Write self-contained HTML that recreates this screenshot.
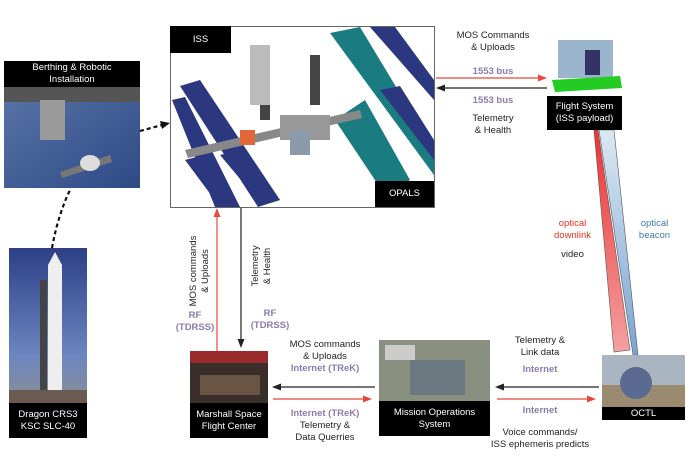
<!DOCTYPE html>
<html><head><style>
body{margin:0;width:700px;height:466px;background:#fff;position:relative;overflow:hidden;font-family:"Liberation Sans",sans-serif;font-size:9.5px;color:#222}
.a{position:absolute}
.lbl{position:absolute;background:#000;color:#fff;text-align:center;line-height:12px;display:flex;align-items:center;justify-content:center}
.t{position:absolute;text-align:center;line-height:12px;white-space:nowrap}
.p{color:#8a7bb0;font-weight:bold}
</style></head><body>
<svg class="a" style="left:0;top:0" width="700" height="466">
<defs>
<linearGradient id="sky" x1="0" y1="0" x2="0" y2="1"><stop offset="0" stop-color="#2d3f86"/><stop offset="0.7" stop-color="#6d86c0"/><stop offset="1" stop-color="#8a8f95"/></linearGradient>
<linearGradient id="earth" x1="0" y1="0" x2="1" y2="1"><stop offset="0" stop-color="#5a74a6"/><stop offset="1" stop-color="#2e4a86"/></linearGradient>
<linearGradient id="red" x1="0" y1="0" x2="0" y2="1"><stop offset="0" stop-color="#e33"/><stop offset="1" stop-color="#f4a0a0"/></linearGradient>
<linearGradient id="blu" x1="0" y1="0" x2="0" y2="1"><stop offset="0" stop-color="#dbe8f3"/><stop offset="1" stop-color="#7ba4d2"/></linearGradient>
</defs>
<!-- beams -->
<polygon points="599,130 614,130 638,355 633,355" fill="url(#blu)" stroke="#555" stroke-width="0.6"/>
<polygon points="594,130 598,130 630,350 614,352" fill="url(#red)" stroke="#555" stroke-width="0.6"/>
<!-- ISS box -->
<rect x="170.5" y="26.5" width="264" height="181" fill="#fff" stroke="#666"/>
<g>
<polygon points="180,86 200,80 280,200 258,207" fill="#2b3880"/>
<polygon points="172,100 185,97 240,207 215,207" fill="#2b3880"/>
<polygon points="185,160 200,156 240,207 220,207" fill="#2b3880"/>
<polygon points="220,155 240,150 280,200 262,205" fill="#2b3880"/>
<polygon points="330,33 360,27 434,150 434,175" fill="#1a7c80"/>
<polygon points="335,120 365,100 410,180 385,195" fill="#1a7c80"/>
<polygon points="370,27 395,27 434,80 434,100" fill="#2b3880"/>
<polygon points="380,90 400,86 434,140 434,160" fill="#2b3880"/>
<rect x="260" y="80" width="10" height="40" fill="#444"/>
<rect x="310" y="55" width="10" height="50" fill="#444"/>
<polygon points="185,150 360,110 362,118 188,158" fill="#888"/>
<rect x="280" y="115" width="50" height="25" fill="#999"/>
<rect x="250" y="45" width="20" height="60" fill="#bbb"/>
<rect x="240" y="130" width="15" height="15" fill="#e2683a"/>
<rect x="290" y="130" width="20" height="25" fill="#8a9aaa"/>
</g>
<!-- Berthing photo -->
<rect x="4" y="87" width="136" height="101" fill="url(#earth)"/>
<rect x="4" y="87" width="136" height="15" fill="#555"/>
<rect x="40" y="100" width="25" height="40" fill="#9a9a9a"/>
<polygon points="60,172 110,155 112,162 62,178" fill="#777"/>
<ellipse cx="90" cy="163" rx="10" ry="8" fill="#ddd"/>
<!-- Dragon photo -->
<rect x="9" y="248" width="78" height="155" fill="url(#sky)"/>
<rect x="48" y="265" width="14" height="130" fill="#eee"/>
<polygon points="48,265 55,252 62,265" fill="#eee"/>
<rect x="40" y="280" width="7" height="115" fill="#444"/>
<rect x="9" y="390" width="78" height="13" fill="#6a5a50"/>
<!-- Marshall photo -->
<rect x="190" y="351" width="78" height="52" fill="#3a2e2a"/>
<rect x="190" y="351" width="78" height="12" fill="#9a2a2a"/>
<rect x="200" y="375" width="60" height="20" fill="#6a5545"/>
<!-- MOS photo -->
<rect x="379" y="340" width="111" height="61" fill="#8a9080"/>
<rect x="410" y="360" width="55" height="35" fill="#6a7a80"/>
<rect x="385" y="345" width="30" height="15" fill="#ccc"/>
<!-- OCTL photo -->
<rect x="602" y="355" width="83" height="52" fill="#a9b5c0"/>
<rect x="602" y="385" width="83" height="22" fill="#9a8a70"/>
<ellipse cx="636" cy="383" rx="16" ry="16" fill="#5a6a90"/>
<!-- Flight system photo -->
<rect x="558" y="40" width="55" height="38" fill="#9ab5cc"/>
<polygon points="552,80 620,76 622,88 555,92" fill="#2c2"/>
<rect x="585" y="50" width="15" height="25" fill="#336"/>
<!-- arrows -->
<g stroke-width="1.2" fill="none">
<line x1="436" y1="78" x2="540" y2="78" stroke="#e8483a"/>
<line x1="547" y1="88" x2="442" y2="88" stroke="#222"/>
<line x1="217" y1="351" x2="217" y2="214" stroke="#e8483a"/>
<line x1="241" y1="208" x2="241" y2="342" stroke="#222"/>
<line x1="375" y1="387" x2="279" y2="387" stroke="#222"/>
<line x1="273" y1="399" x2="366" y2="399" stroke="#e8483a"/>
<line x1="599" y1="387" x2="502" y2="387" stroke="#222"/>
<line x1="497" y1="399" x2="589" y2="399" stroke="#e8483a"/>
<line x1="140" y1="131" x2="162" y2="125" stroke="#111" stroke-width="2.2" stroke-dasharray="4,3"/>
<path d="M52,248 Q58,215 70,190" stroke="#111" stroke-width="2.2" stroke-dasharray="4,3"/>
</g>
<g>
<polygon points="547,78 538,74.5 538,81.5" fill="#e8483a"/>
<polygon points="436,88 445,84.5 445,91.5" fill="#222"/>
<polygon points="217,208 213.5,217 220.5,217" fill="#e8483a"/>
<polygon points="241,348 237.5,339 244.5,339" fill="#222"/>
<polygon points="272,387 281,383.5 281,390.5" fill="#222"/>
<polygon points="372,399 363,395.5 363,402.5" fill="#e8483a"/>
<polygon points="495,387 504,383.5 504,390.5" fill="#222"/>
<polygon points="596,399 587,395.5 587,402.5" fill="#e8483a"/>
<polygon points="170,123 160,121 162,129" fill="#111"/>
</g>
</svg>
<div class="lbl" style="left:170px;top:26px;width:61px;height:27px">ISS</div>
<div class="lbl" style="left:375px;top:181px;width:59px;height:26px">OPALS</div>
<div class="lbl" style="left:4px;top:61px;width:136px;height:26px">Berthing &amp; Robotic<br>Installation</div>
<div class="lbl" style="left:9px;top:403px;width:78px;height:35px">Dragon CRS3<br>KSC SLC-40</div>
<div class="lbl" style="left:190px;top:403px;width:78px;height:35px">Marshall Space<br>Flight Center</div>
<div class="lbl" style="left:379px;top:401px;width:111px;height:35px">Mission Operations<br>System</div>
<div class="lbl" style="left:602px;top:407px;width:83px;height:13px">OCTL</div>
<div class="lbl" style="left:547px;top:96px;width:75px;height:34px">Flight System<br>(ISS payload)</div>
<div class="t" style="left:443px;top:30px;width:100px">MOS Commands<br>&amp; Uploads</div>
<div class="t p" style="left:443px;top:66px;width:100px">1553 bus</div>
<div class="t p" style="left:443px;top:95px;width:100px">1553 bus</div>
<div class="t" style="left:443px;top:113px;width:100px">Telemetry<br>&amp; Health</div>
<div class="t" style="left:160px;top:259px;width:80px;transform:rotate(-90deg)">MOS commands<br>&amp; Uploads</div>
<div class="t" style="left:222px;top:254px;width:80px;transform:rotate(-90deg)">Telemetry<br>&amp; Health</div>
<div class="t p" style="left:170px;top:310px;width:50px">RF<br>(TDRSS)</div>
<div class="t p" style="left:245px;top:308px;width:50px">RF<br>(TDRSS)</div>
<div class="t" style="left:270px;top:339px;width:110px">MOS commands<br>&amp; Uploads<br><span class="p">Internet (TReK)</span></div>
<div class="t" style="left:270px;top:408px;width:110px"><span class="p">Internet (TReK)</span><br>Telemetry &amp;<br>Data Querries</div>
<div class="t" style="left:490px;top:335px;width:100px">Telemetry &amp;<br>Link data</div>
<div class="t p" style="left:490px;top:364px;width:100px">Internet</div>
<div class="t p" style="left:490px;top:405px;width:100px">Internet</div>
<div class="t" style="left:480px;top:427px;width:120px">Voice commands/<br>ISS ephemeris predicts</div>
<div class="t" style="left:540px;top:218px;width:65px;color:#e8301e">optical<br>downlink</div>
<div class="t" style="left:622px;top:218px;width:65px;color:#3d7ab8">optical<br>beacon</div>
<div class="t" style="left:550px;top:249px;width:45px">video</div>
</body></html>
